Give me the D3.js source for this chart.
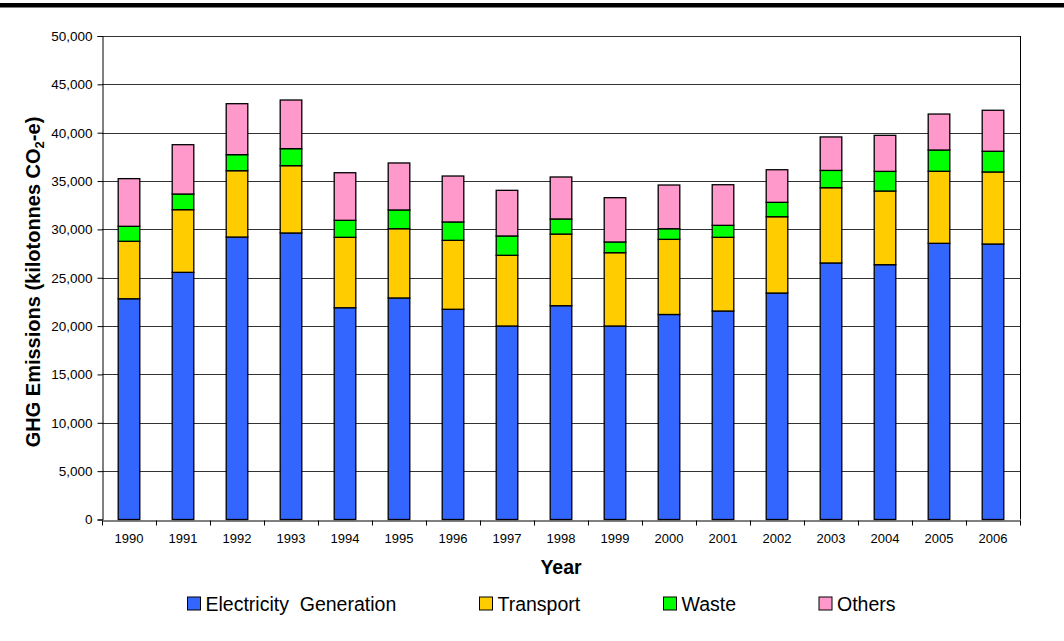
<!DOCTYPE html>
<html>
<head>
<meta charset="utf-8">
<script src="https://cdn.jsdelivr.net/npm/d3@7"></script>
<style>
  body { margin: 0; background: #fff; }
  svg { display: block; font-family: "Liberation Sans", Arial, sans-serif; }
</style>
</head>
<body>
<div id="chart"></div>
<script>
// data (kilotonnes CO2-e)
const years = ["1990","1991","1992","1993","1994","1995","1996","1997","1998","1999","2000","2001","2002","2003","2004","2005","2006"];
const electricity = [22830, 25560, 29210, 29630, 21900, 22910, 21740, 20010, 22110, 20010, 21200, 21560, 23420, 26530, 26350, 28560, 28490];
const transport   = [5940, 6480, 6860, 6960, 7280, 7160, 7130, 7310, 7410, 7580, 7770, 7620, 7890, 7780, 7620, 7450, 7450];
const waste       = [1550, 1620, 1660, 1760, 1760, 1940, 1900, 2000, 1560, 1110, 1100, 1240, 1490, 1790, 2030, 2200, 2140];
const others      = [4930, 5100, 5270, 5030, 4920, 4860, 4750, 4720, 4340, 4580, 4520, 4200, 3370, 3460, 3730, 3720, 4240];
const seriesNames = ["Electricity  Generation", "Transport", "Waste", "Others"];
const yTicks = [0, 5000, 10000, 15000, 20000, 25000, 30000, 35000, 40000, 45000, 50000];

const colors = ["#3366FF", "#FFCC00", "#00FF00", "#FF99CC"];

const W = 1064, H = 641;
const margin = {left: 102, right: 44, top: 36, bottom: 121.5};

const svg = d3.select('#chart').append('svg')
    .attr('width', W)
    .attr('height', H);

// thick rule across the top
svg.append('rect')
    .attr('x', 0).attr('y', 3)
    .attr('width', W).attr('height', 4.5)
    .attr('fill', '#000');

const x = d3.scaleBand()
    .domain(years)
    .range([margin.left, W - margin.right])
    .paddingInner(0.6)
    .paddingOuter(0.3);

const y = d3.scaleLinear()
    .domain([0, 50000])
    .range([H - margin.bottom, margin.top]);

const rows = years.map((yr, i) => ({
  year: yr,
  s0: electricity[i], s1: transport[i], s2: waste[i], s3: others[i]
}));
const stack = d3.stack().keys(["s0", "s1", "s2", "s3"]);
const stacked = stack(rows);

// gridlines
svg.append('g')
  .selectAll('line')
  .data(yTicks.filter(d => d > 0))
  .enter().append('line')
    .attr('x1', margin.left).attr('x2', W - margin.right)
    .attr('y1', d => Math.round(y(d)) + 0.5)
    .attr('y2', d => Math.round(y(d)) + 0.5)
    .attr('stroke', '#333')
    .attr('stroke-width', 1);

// right edge of plot
svg.append('line')
    .attr('x1', W - margin.right + 0.5).attr('x2', W - margin.right + 0.5)
    .attr('y1', y(50000)).attr('y2', y(0))
    .attr('stroke', '#000');

// bars
svg.append('g')
  .selectAll('g')
  .data(stacked)
  .enter().append('g')
    .attr('fill', (d, i) => colors[i])
  .selectAll('rect')
  .data(d => d)
  .enter().append('rect')
    .attr('x', d => x(d.data.year))
    .attr('y', d => y(d[1]))
    .attr('width', x.bandwidth())
    .attr('height', d => y(d[0]) - y(d[1]))
    .attr('stroke', '#000')
    .attr('stroke-width', 1.3);

// y axis
const yAxis = d3.axisLeft(y)
    .tickValues(yTicks)
    .tickSize(5)
    .tickPadding(5)
    .tickFormat(d3.format(','));
const gy = svg.append('g')
    .attr('transform', 'translate(' + (margin.left + 0.5) + ',0)')
    .call(yAxis);
gy.selectAll('text').attr('font-size', 13.5).attr('fill', '#000')
    .attr('font-family', '"Liberation Sans", Arial, sans-serif');
gy.select('.domain').attr('stroke', '#000');

// x axis: ticks at category boundaries
const xAxis = d3.axisBottom(x).tickSize(0).tickPadding(13);
const gx = svg.append('g')
    .attr('transform', 'translate(0,' + (Math.round(y(0)) + 0.5) + ')')
    .call(xAxis);
gx.selectAll('text').attr('font-size', 13).attr('fill', '#000')
    .attr('font-family', '"Liberation Sans", Arial, sans-serif');
gx.select('.domain').attr('stroke', '#000');
gx.selectAll('.sep')
  .data(d3.range(years.length + 1))
  .enter().append('line')
    .attr('x1', i => Math.round(margin.left + i * (W - margin.left - margin.right) / years.length) + 0.5)
    .attr('x2', i => Math.round(margin.left + i * (W - margin.left - margin.right) / years.length) + 0.5)
    .attr('y1', 0).attr('y2', 5)
    .attr('stroke', '#000');

// axis titles
svg.append('text')
    .text('Year')
    .attr('x', (margin.left + W - margin.right) / 2)
    .attr('y', 574)
    .attr('text-anchor', 'middle')
    .attr('font-size', 19.5)
    .attr('font-weight', 'bold');

const yt = svg.append('text')
    .attr('transform', 'translate(40,282) rotate(-90)')
    .attr('text-anchor', 'middle')
    .attr('font-size', 20)
    .attr('font-weight', 'bold');
yt.append('tspan').text('GHG Emissions (kilotonnes CO');
yt.append('tspan').text('2').attr('font-size', 13).attr('dy', 4);
yt.append('tspan').text('-e)').attr('dy', -4);

// legend
const legendX = [187.5, 479.5, 663.5, 819];
const lg = svg.append('g')
  .selectAll('g')
  .data(seriesNames)
  .enter().append('g')
    .attr('transform', (d, i) => 'translate(' + legendX[i] + ',597)');
lg.append('rect')
    .attr('width', 13).attr('height', 13)
    .attr('fill', (d, i) => colors[i])
    .attr('stroke', '#000');
lg.append('text')
    .text(d => d)
    .attr('x', 18)
    .attr('y', 13.5)
    .attr('font-size', 19.5)
    .style('white-space', 'pre')
    .attr('fill', '#000');
</script>
</body>
</html>
